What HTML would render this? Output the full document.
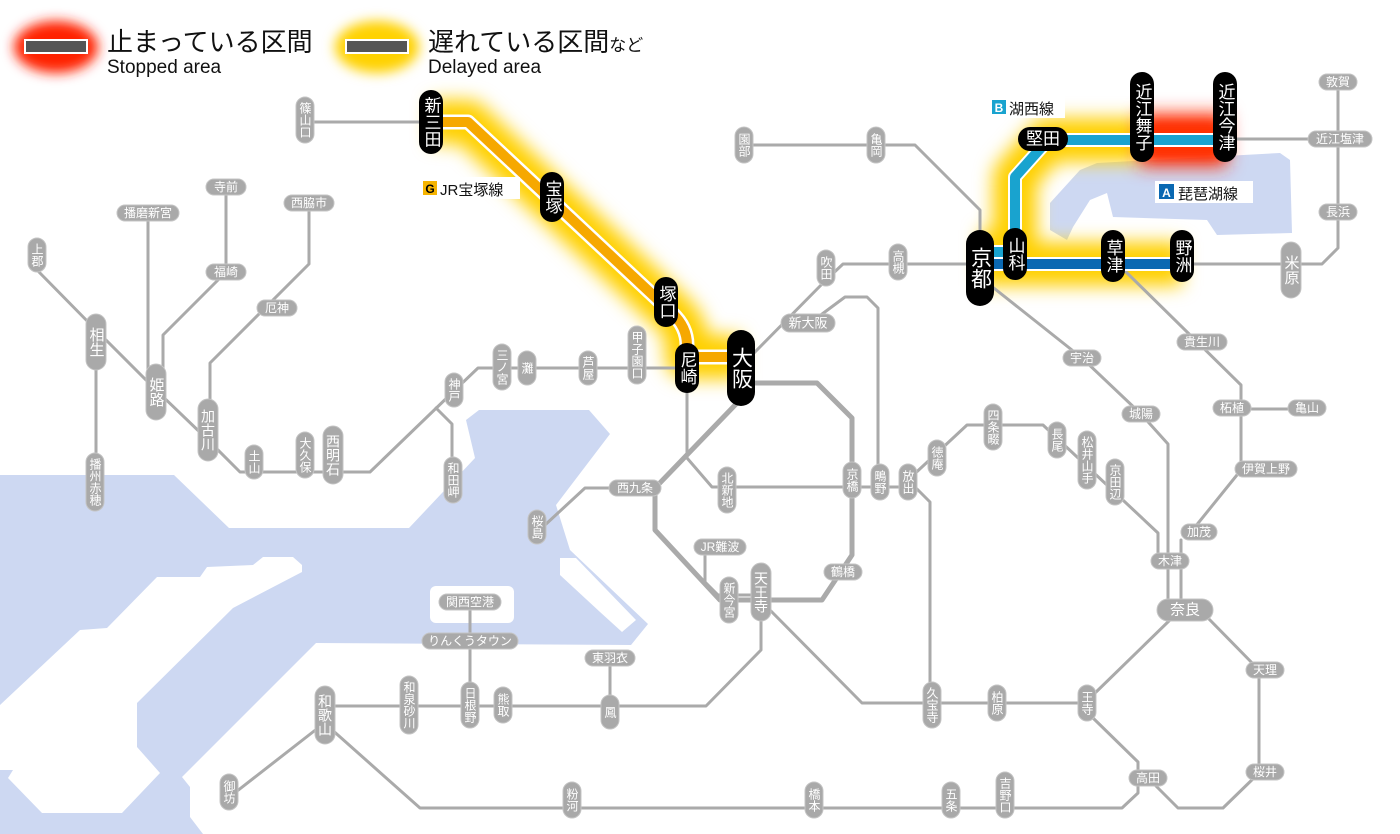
<!DOCTYPE html>
<html><head><meta charset="utf-8"><style>
html,body{margin:0;padding:0;background:#fff;}
svg{display:block;font-family:"Liberation Sans","Noto Sans CJK JP",sans-serif;}
.ln{fill:none;stroke:#aaaaaa;stroke-width:3;stroke-linejoin:round;stroke-linecap:round}
.gp{fill:#a9a9a9;stroke:#c4c4c4;stroke-width:1}
.gt{fill:#fff;font-size:12px;text-anchor:middle;dominant-baseline:central}
.gb{fill:#fff;font-size:15px;text-anchor:middle;dominant-baseline:central}
.v{writing-mode:vertical-rl;text-orientation:upright}
.bp{fill:#000}
.bt{fill:#fff;font-size:17px;text-anchor:middle;dominant-baseline:central}
.bb{fill:#fff;font-size:21px;text-anchor:middle;dominant-baseline:central}
</style></head><body>
<svg width="1400" height="834" viewBox="0 0 1400 834" xmlns="http://www.w3.org/2000/svg">
<defs>
<filter id="bl" filterUnits="userSpaceOnUse" x="0" y="0" width="1400" height="834"><feGaussianBlur stdDeviation="9"/></filter>
<filter id="bl2" filterUnits="userSpaceOnUse" x="0" y="0" width="1400" height="834"><feGaussianBlur stdDeviation="6"/></filter>
</defs>
<!-- water -->
<polygon fill="#cdd8f2" points="0,475 174,475 229,528 409,528 475,458 466,420 479,410 589,410 610,434 556,505 570,550 648,624 631,645 316,643 182,777 190,787 190,817 203,834 0,834"/>
<polygon fill="#fff" points="302,565 293,557 263,557 253,565 207,567 200,577 157,577 107,628 80,630 0,705 0,770 13,770 8,778 42,813 122,813 160,773 137,747 137,703 233,608 302,572"/>
<polygon fill="#fff" points="560,558 576,558 636,620 622,632 600,612 560,575"/>
<rect x="430" y="586" width="84" height="37" rx="6" fill="#fff"/>
<!-- lake biwa -->
<polygon fill="#cdd8f2" points="1050,203 1080,170 1097,163 1280,153 1290,160 1292,233 1217,235 1207,220 1113,217 1107,193 1090,200 1073,227 1067,240 1050,230"/>

<!-- legend -->
<ellipse cx="56" cy="47" rx="42" ry="26" fill="#ff2200" filter="url(#bl2)"/>
<rect x="25" y="40" width="62" height="13" fill="#555" stroke="#fff" stroke-width="2"/>
<text x="107" y="51" font-size="26" fill="#111">止まっている区間</text>
<text x="107" y="73" font-size="19" fill="#111">Stopped area</text>
<ellipse cx="377" cy="47" rx="42" ry="26" fill="#ffd200" filter="url(#bl2)"/>
<rect x="346" y="40" width="62" height="13" fill="#555" stroke="#fff" stroke-width="2"/>
<text x="428" y="51" font-size="26" fill="#111">遅れている区間<tspan font-size="17">など</tspan></text>
<text x="428" y="73" font-size="19" fill="#111">Delayed area</text>

<!-- glows -->
<path d="M431 122 H468 L672 313 Q687 327 687 345 V357 H741" fill="none" stroke="#ffd000" stroke-width="44" filter="url(#bl)" stroke-linejoin="round"/>
<path d="M980 264 H1182 M980 252 H1015 V177 L1048 140 H1142" fill="none" stroke="#ffd000" stroke-width="44" filter="url(#bl)" stroke-linejoin="round"/>
<path d="M1140 140 H1227" fill="none" stroke="#ff2a00" stroke-width="52" filter="url(#bl)"/>
<path d="M1142 140 H1225" fill="none" stroke="#ff3000" stroke-width="30" filter="url(#bl2)"/>

<!-- gray lines -->
<g class="ln">
<path d="M305 122 H431"/>
<path d="M148 213 V390"/>
<path d="M226 187 V272 L163 335 V390"/>
<path d="M309 203 V264 L210 363 V430"/>
<path d="M37 270 L96 330 L156 390 L208 440 L240 472 H370 L455 390 L478 368 H687"/>
<path d="M436 408 L452 424 V470"/>
<path d="M96 340 V482"/>
<path d="M687 368 V458 L712 487 H908"/>
<path d="M635 488 H585 L545 525"/>
<path d="M705 547 V582 L718 595 H761"/>
<path d="M761 600 V650 L706 706 H325"/>
<path d="M765 605 L862 703 H1087"/>
<path d="M908 480 L930 502 V703"/>
<path d="M908 480 L967 425 H1043 L1158 533 V560"/>
<path d="M990 285 L1082 358 L1141 414 L1168 444 V610"/>
<path d="M1120 266 L1241 385 V470 L1195 527"/>
<path d="M1181 540 V610"/>
<path d="M1232 409 H1305"/>
<path d="M1207 617 L1259 670 V773 L1223 808 H1178 L1150 780"/>
<path d="M1172 618 L1093 695"/>
<path d="M1093 718 L1138 762 V793 L1122 808 H420 L330 728"/>
<path d="M318 728 L232 795"/>
<path d="M470 602 V705"/>
<path d="M610 658 V710"/>
<path d="M878 480 V308 L867 297 H845 L810 323"/>
<path d="M752 355 L826 280 L843 264 H980"/>
<path d="M1182 264 H1322 L1338 248 V82"/>
<path d="M744 145 H915 L980 210 V235"/>
<path d="M1225 139 H1338"/>
</g>
<path d="M741 383 H817 L852 418 V555 L822 600 H720 L655 530 V488 L738 402" fill="none" stroke="#aaaaaa" stroke-width="5" stroke-linejoin="round"/>

<!-- colored lines -->
<path d="M431 122 H468 L672 313 Q687 327 687 345 V357 H741" fill="none" stroke="#fff" stroke-width="15" stroke-linejoin="round"/>
<path d="M431 122 H468 L672 313 Q687 327 687 345 V357 H741" fill="none" stroke="#f6a800" stroke-width="10" stroke-linejoin="round"/>
<path d="M980 264 H1182" fill="none" stroke="#fff" stroke-width="14"/>
<path d="M980 252 H1015 V177 L1048 140 H1225" fill="none" stroke="#fff" stroke-width="14" stroke-linejoin="round"/>
<path d="M980 252 H1015 V177 L1048 140 H1225" fill="none" stroke="#19a3cf" stroke-width="10" stroke-linejoin="round"/>
<path d="M980 264 H1182" fill="none" stroke="#0a68b2" stroke-width="10"/>

<!-- line labels -->
<rect x="419" y="177" width="101" height="22" fill="#fff"/>
<rect x="423" y="181" width="14" height="14" fill="#f6b400"/>
<text x="430" y="193" font-size="12" font-weight="bold" text-anchor="middle" fill="#000">G</text>
<text x="440" y="195" font-size="15" fill="#111">JR宝塚線</text>
<rect x="989" y="96" width="76" height="22" fill="#fff"/>
<rect x="992" y="100" width="14" height="14" fill="#19a3cf"/>
<text x="999" y="112" font-size="12" font-weight="bold" text-anchor="middle" fill="#fff">B</text>
<text x="1009" y="114" font-size="15" fill="#111">湖西線</text>
<rect x="1155" y="181" width="98" height="22" fill="#fff"/>
<rect x="1159" y="184" width="15" height="15" fill="#0a68b2"/>
<text x="1166.5" y="197" font-size="12" font-weight="bold" text-anchor="middle" fill="#fff">A</text>
<text x="1178" y="199" font-size="15" fill="#111">琵琶湖線</text>

<!-- gray vertical stations -->
<g>
<rect class="gp" x="296" y="97" width="18" height="46" rx="9"/><text class="gt v" x="305" y="120">篠山口</text>
<rect class="gp" x="28" y="238" width="18" height="34" rx="9"/><text class="gt v" x="37" y="255">上郡</text>
<rect class="gp" x="245" y="445" width="18" height="34" rx="9"/><text class="gt v" x="254" y="462">土山</text>
<rect class="gp" x="296" y="432" width="18" height="46" rx="9"/><text class="gt v" x="305" y="455">大久保</text>
<rect class="gp" x="445" y="373" width="18" height="34" rx="9"/><text class="gt v" x="454" y="390">神戸</text>
<rect class="gp" x="444" y="457" width="18" height="46" rx="9"/><text class="gt v" x="453" y="480">和田岬</text>
<rect class="gp" x="86" y="453" width="18" height="58" rx="9"/><text class="gt v" x="95" y="482">播州赤穂</text>
<rect class="gp" x="493" y="344" width="18" height="46" rx="9"/><text class="gt v" x="502" y="367">三ノ宮</text>
<rect class="gp" x="518" y="351" width="18" height="34" rx="9"/><text class="gt v" x="527" y="368">灘</text>
<rect class="gp" x="579" y="351" width="18" height="34" rx="9"/><text class="gt v" x="588" y="368">芦屋</text>
<rect class="gp" x="628" y="326" width="18" height="58" rx="9"/><text class="gt v" x="637" y="355">甲子園口</text>
<rect class="gp" x="528" y="510" width="18" height="34" rx="9"/><text class="gt v" x="537" y="527">桜島</text>
<rect class="gp" x="718" y="467" width="18" height="46" rx="9"/><text class="gt v" x="727" y="490">北新地</text>
<rect class="gp" x="843" y="462" width="18" height="36" rx="9"/><text class="gt v" x="852" y="480">京橋</text>
<rect class="gp" x="871" y="464" width="18" height="36" rx="9"/><text class="gt v" x="880" y="482">鴫野</text>
<rect class="gp" x="899" y="464" width="18" height="36" rx="9"/><text class="gt v" x="908" y="482">放出</text>
<rect class="gp" x="928" y="440" width="18" height="36" rx="9"/><text class="gt v" x="937" y="458">徳庵</text>
<rect class="gp" x="984" y="404" width="18" height="46" rx="9"/><text class="gt v" x="993" y="427">四条畷</text>
<rect class="gp" x="1048" y="422" width="18" height="36" rx="9"/><text class="gt v" x="1057" y="440">長尾</text>
<rect class="gp" x="1078" y="431" width="18" height="58" rx="9"/><text class="gt v" x="1087" y="460">松井山手</text>
<rect class="gp" x="1106" y="459" width="18" height="46" rx="9"/><text class="gt v" x="1115" y="482">京田辺</text>
<rect class="gp" x="720" y="577" width="18" height="46" rx="9"/><text class="gt v" x="729" y="600">新今宮</text>
<rect class="gp" x="601" y="695" width="18" height="34" rx="9"/><text class="gt v" x="610" y="712">鳳</text>
<rect class="gp" x="400" y="676" width="18" height="58" rx="9"/><text class="gt v" x="409" y="705">和泉砂川</text>
<rect class="gp" x="461" y="682" width="18" height="46" rx="9"/><text class="gt v" x="470" y="705">日根野</text>
<rect class="gp" x="494" y="687" width="18" height="36" rx="9"/><text class="gt v" x="503" y="705">熊取</text>
<rect class="gp" x="220" y="774" width="18" height="36" rx="9"/><text class="gt v" x="229" y="792">御坊</text>
<rect class="gp" x="563" y="782" width="18" height="36" rx="9"/><text class="gt v" x="572" y="800">粉河</text>
<rect class="gp" x="805" y="782" width="18" height="36" rx="9"/><text class="gt v" x="814" y="800">橋本</text>
<rect class="gp" x="942" y="782" width="18" height="36" rx="9"/><text class="gt v" x="951" y="800">五条</text>
<rect class="gp" x="996" y="772" width="18" height="46" rx="9"/><text class="gt v" x="1005" y="795">吉野口</text>
<rect class="gp" x="923" y="682" width="18" height="46" rx="9"/><text class="gt v" x="932" y="705">久宝寺</text>
<rect class="gp" x="988" y="685" width="18" height="36" rx="9"/><text class="gt v" x="997" y="703">柏原</text>
<rect class="gp" x="1078" y="685" width="18" height="36" rx="9"/><text class="gt v" x="1087" y="703">王寺</text>
<rect class="gp" x="889" y="244" width="18" height="36" rx="9"/><text class="gt v" x="898" y="262">高槻</text>
<rect class="gp" x="817" y="250" width="18" height="36" rx="9"/><text class="gt v" x="826" y="268">吹田</text>
<rect class="gp" x="867" y="127" width="18" height="36" rx="9"/><text class="gt v" x="876" y="145">亀岡</text>
<rect class="gp" x="735" y="127" width="18" height="36" rx="9"/><text class="gt v" x="744" y="145">園部</text>
<rect class="gp" x="86" y="314" width="20" height="56" rx="10"/><text class="gb v" x="96" y="342">相生</text>
<rect class="gp" x="146" y="364" width="20" height="56" rx="10"/><text class="gb v" x="156" y="392">姫路</text>
<rect class="gp" x="198" y="399" width="20" height="62" rx="10"/><text class="gb v" x="208" y="430" style="font-size:14px">加古川</text>
<rect class="gp" x="323" y="426" width="20" height="58" rx="10"/><text class="gb v" x="333" y="455" style="font-size:14px">西明石</text>
<rect class="gp" x="751" y="563" width="20" height="58" rx="10"/><text class="gb v" x="761" y="592" style="font-size:14px">天王寺</text>
<rect class="gp" x="315" y="686" width="20" height="58" rx="10"/><text class="gb v" x="325" y="715" style="font-size:14px">和歌山</text>
<rect class="gp" x="1281" y="242" width="20" height="56" rx="10"/><text class="gb v" x="1291" y="270">米原</text>
</g>
<!-- gray horizontal stations -->
<g>
<rect class="gp" x="206" y="179" width="40" height="16" rx="8"/><text class="gt" x="226" y="187">寺前</text>
<rect class="gp" x="117" y="205" width="62" height="16" rx="8"/><text class="gt" x="148" y="213">播磨新宮</text>
<rect class="gp" x="284" y="195" width="50" height="16" rx="8"/><text class="gt" x="309" y="203">西脇市</text>
<rect class="gp" x="206" y="264" width="40" height="16" rx="8"/><text class="gt" x="226" y="272">福崎</text>
<rect class="gp" x="257" y="300" width="40" height="16" rx="8"/><text class="gt" x="277" y="308">厄神</text>
<rect class="gp" x="609" y="480" width="52" height="16" rx="8"/><text class="gt" x="635" y="488">西九条</text>
<rect class="gp" x="694" y="539" width="52" height="16" rx="8"/><text class="gt" x="720" y="547">JR難波</text>
<rect class="gp" x="824" y="564" width="38" height="16" rx="8"/><text class="gt" x="843" y="572">鶴橋</text>
<rect class="gp" x="439" y="594" width="62" height="16" rx="8"/><text class="gt" x="470" y="602">関西空港</text>
<rect class="gp" x="422" y="633" width="96" height="16" rx="8"/><text class="gt" x="470" y="641">りんくうタウン</text>
<rect class="gp" x="585" y="650" width="50" height="16" rx="8"/><text class="gt" x="610" y="658">東羽衣</text>
<rect class="gp" x="1129" y="770" width="38" height="16" rx="8"/><text class="gt" x="1148" y="778">高田</text>
<rect class="gp" x="1246" y="764" width="38" height="16" rx="8"/><text class="gt" x="1265" y="772">桜井</text>
<rect class="gp" x="1246" y="662" width="38" height="16" rx="8"/><text class="gt" x="1265" y="670">天理</text>
<rect class="gp" x="1151" y="553" width="38" height="16" rx="8"/><text class="gt" x="1170" y="561">木津</text>
<rect class="gp" x="1181" y="524" width="36" height="16" rx="8"/><text class="gt" x="1199" y="532">加茂</text>
<rect class="gp" x="1235" y="461" width="62" height="16" rx="8"/><text class="gt" x="1266" y="469">伊賀上野</text>
<rect class="gp" x="1213" y="400" width="38" height="16" rx="8"/><text class="gt" x="1232" y="408">柘植</text>
<rect class="gp" x="1288" y="400" width="38" height="16" rx="8"/><text class="gt" x="1307" y="408">亀山</text>
<rect class="gp" x="1122" y="406" width="38" height="16" rx="8"/><text class="gt" x="1141" y="414">城陽</text>
<rect class="gp" x="1063" y="350" width="38" height="16" rx="8"/><text class="gt" x="1082" y="358">宇治</text>
<rect class="gp" x="1177" y="334" width="50" height="16" rx="8"/><text class="gt" x="1202" y="342">貴生川</text>
<rect class="gp" x="1319" y="204" width="38" height="16" rx="8"/><text class="gt" x="1338" y="212">長浜</text>
<rect class="gp" x="1308" y="131" width="64" height="16" rx="8"/><text class="gt" x="1340" y="139">近江塩津</text>
<rect class="gp" x="1319" y="74" width="38" height="16" rx="8"/><text class="gt" x="1338" y="82">敦賀</text>
<rect class="gp" x="781" y="314" width="54" height="18" rx="9"/><text class="gt" x="808" y="323" style="font-size:13px">新大阪</text>
<rect class="gp" x="1157" y="599" width="56" height="22" rx="11"/><text class="gb" x="1185" y="610">奈良</text>
</g>
<!-- black stations -->
<g>
<rect class="bp" x="419" y="90" width="24" height="64" rx="12"/><text class="bt v" x="431" y="122">新三田</text>
<rect class="bp" x="540" y="172" width="24" height="50" rx="12"/><text class="bt v" x="552" y="197">宝塚</text>
<rect class="bp" x="654" y="277" width="24" height="50" rx="12"/><text class="bt v" x="666" y="302">塚口</text>
<rect class="bp" x="675" y="343" width="24" height="50" rx="12"/><text class="bt v" x="687" y="368">尼崎</text>
<rect class="bp" x="727" y="330" width="28" height="76" rx="14"/><text class="bb v" x="741" y="368">大阪</text>
<rect class="bp" x="966" y="230" width="28" height="76" rx="14"/><text class="bb v" x="980" y="268">京都</text>
<rect class="bp" x="1003" y="228" width="24" height="52" rx="12"/><text class="bt v" x="1015" y="254">山科</text>
<rect class="bp" x="1101" y="230" width="24" height="52" rx="12"/><text class="bt v" x="1113" y="256">草津</text>
<rect class="bp" x="1170" y="230" width="24" height="52" rx="12"/><text class="bt v" x="1182" y="256">野洲</text>
<rect class="bp" x="1130" y="72" width="24" height="90" rx="12"/><text class="bt v" x="1142" y="117">近江舞子</text>
<rect class="bp" x="1213" y="72" width="24" height="90" rx="12"/><text class="bt v" x="1225" y="117">近江今津</text>
<rect class="bp" x="1018" y="127" width="50" height="24" rx="12"/><text class="bt" x="1043" y="139">堅田</text>
</g>
</svg>
</body></html>
